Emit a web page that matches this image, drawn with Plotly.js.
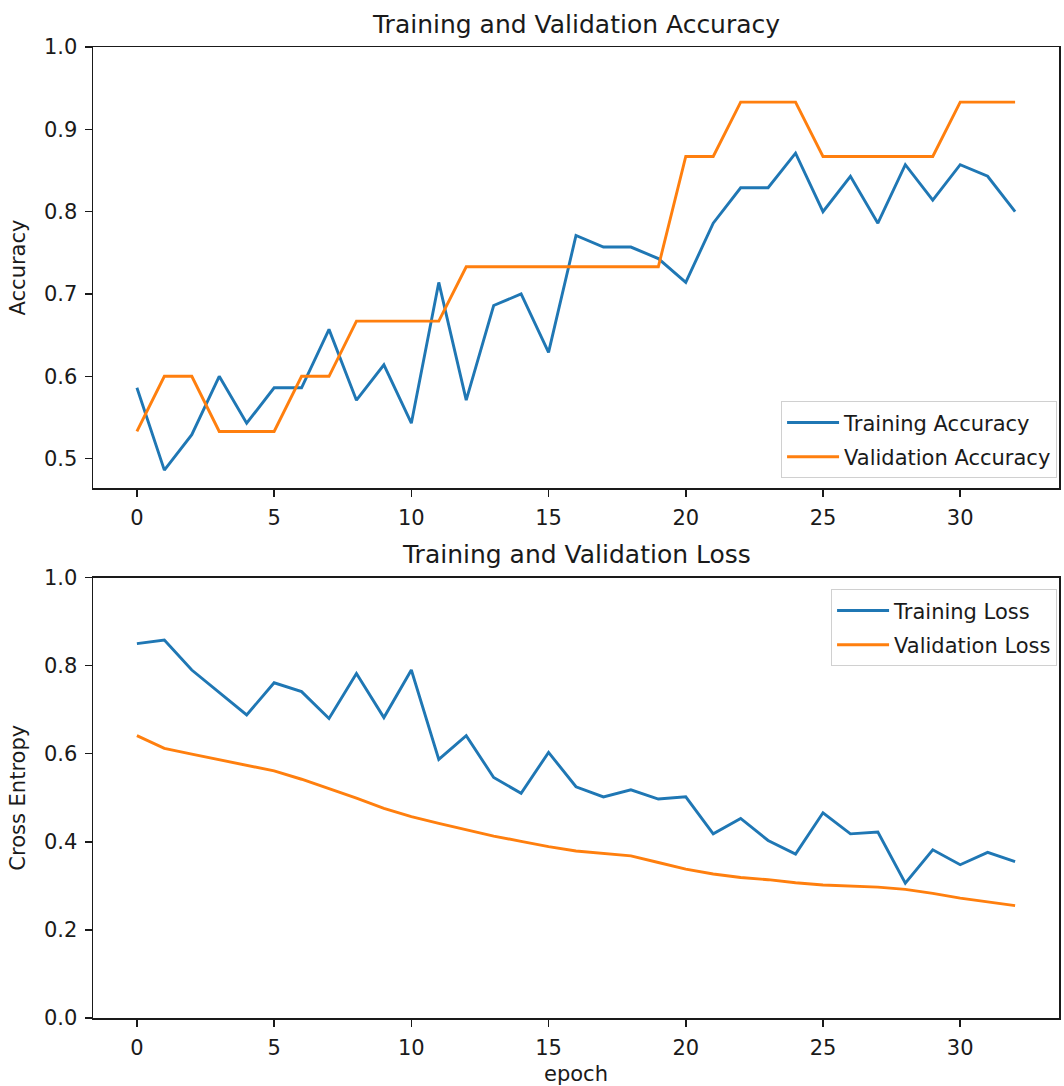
<!DOCTYPE html>
<html>
<head>
<meta charset="utf-8">
<script src="https://cdn.plot.ly/plotly-3.0.1.min.js"></script>
<style>html,body{margin:0;padding:0;background:#fff;}#chart{width:1064px;height:1086px;}</style>
</head>
<body>
<div id="chart"></div>
<script>
const epochs = Array.from({length: 33}, (_, i) => i);
const trainAcc = [0.586, 0.486, 0.529, 0.600, 0.543, 0.586, 0.586, 0.657, 0.571, 0.614, 0.543, 0.714,
  0.571, 0.686, 0.700, 0.629, 0.771, 0.757, 0.757, 0.743, 0.714, 0.786, 0.829, 0.829,
  0.871, 0.800, 0.843, 0.786, 0.857, 0.814, 0.857, 0.843, 0.800];
const valAcc = [0.533, 0.600, 0.600, 0.533, 0.533, 0.533, 0.600, 0.600, 0.667, 0.667, 0.667, 0.667,
  0.733, 0.733, 0.733, 0.733, 0.733, 0.733, 0.733, 0.733, 0.867, 0.867, 0.933, 0.933,
  0.933, 0.867, 0.867, 0.867, 0.867, 0.867, 0.933, 0.933, 0.933];
const trainLoss = [0.850, 0.858, 0.790, 0.738, 0.688, 0.761, 0.741, 0.680, 0.782, 0.682, 0.790, 0.587,
  0.641, 0.546, 0.510, 0.603, 0.525, 0.502, 0.518, 0.497, 0.502, 0.418, 0.453, 0.403,
  0.372, 0.466, 0.418, 0.422, 0.306, 0.382, 0.348, 0.376, 0.355];
const valLoss = [0.641, 0.612, 0.599, 0.586, 0.574, 0.561, 0.542, 0.521, 0.499, 0.476, 0.457, 0.442,
  0.427, 0.413, 0.401, 0.389, 0.379, 0.374, 0.368, 0.353, 0.338, 0.327, 0.319, 0.314,
  0.307, 0.302, 0.300, 0.297, 0.292, 0.283, 0.272, 0.264, 0.255];
const xTicks = [0, 5, 10, 15, 20, 25, 30];
const accTicks = [0.5, 0.6, 0.7, 0.8, 0.9, 1.0];
const lossTicks = [0.0, 0.2, 0.4, 0.6, 0.8, 1.0];

const BLUE = '#1f77b4', ORANGE = '#ff7f0e';
const FONT = 'DejaVu Sans, sans-serif';
const TXT = '#1a1a1a';
const LW = 2.9;
const FS = 21;

const traces = [
  {x: epochs, y: trainAcc, name: 'Training Accuracy', type: 'scatter', mode: 'lines', legendgroup: 'a',
   line: {color: BLUE, width: LW}, xaxis: 'x', yaxis: 'y', legend: 'legend'},
  {x: epochs, y: valAcc, name: 'Validation Accuracy', type: 'scatter', mode: 'lines', legendgroup: 'b',
   line: {color: ORANGE, width: LW}, xaxis: 'x', yaxis: 'y', legend: 'legend'},
  {x: epochs, y: trainLoss, name: 'Training Loss', type: 'scatter', mode: 'lines', legendgroup: 'c',
   line: {color: BLUE, width: LW}, xaxis: 'x2', yaxis: 'y2', legend: 'legend2'},
  {x: epochs, y: valLoss, name: 'Validation Loss', type: 'scatter', mode: 'lines', legendgroup: 'd',
   line: {color: ORANGE, width: LW}, xaxis: 'x2', yaxis: 'y2', legend: 'legend2'}
];

const axCommon = {
  showgrid: false, zeroline: false, showline: true, mirror: true,
  linecolor: '#1a1a1a', linewidth: 1.5, ticks: 'outside', ticklen: 7, tickwidth: 1.5,
  tickcolor: '#1a1a1a', tickfont: {family: FONT, size: FS, color: TXT}, automargin: false,
  ticklabelstandoff: 3
};

const H_BOTTOM = 1018, H_TOP = 47;
const areaH = H_BOTTOM - H_TOP;
const py = px => (H_BOTTOM - px) / areaH;

const legendCommon = {bgcolor: 'rgba(255,255,255,0.8)', bordercolor: '#d0d0d0', borderwidth: 1,
  font: {family: FONT, size: FS, color: TXT}, itemwidth: 52, tracegroupgap: 4, traceorder: 'grouped'};

const layout = {
  width: 1064, height: 1086,
  paper_bgcolor: '#fff', plot_bgcolor: '#fff',
  margin: {l: 93, r: 5, t: H_TOP, b: 1086 - H_BOTTOM},
  font: {family: FONT, color: TXT},
  xaxis: Object.assign({}, axCommon, {range: [-1.6, 33.6], tickvals: xTicks, ticktext: xTicks.map(String), anchor: 'y'}),
  yaxis: Object.assign({}, axCommon, {domain: [py(488), 1], range: [0.4643, 1.0], tickvals: accTicks,
    ticktext: accTicks.map(v => v.toFixed(1)), anchor: 'x',
    title: {text: 'Accuracy', font: {family: FONT, size: FS, color: TXT}, standoff: 12}}),
  xaxis2: Object.assign({}, axCommon, {range: [-1.6, 33.6], tickvals: xTicks, ticktext: xTicks.map(String), anchor: 'y2',
    title: {text: 'epoch', font: {family: FONT, size: FS, color: TXT}, standoff: 8}}),
  yaxis2: Object.assign({}, axCommon, {domain: [0, py(577.5)], range: [0, 1.0], tickvals: lossTicks,
    ticktext: lossTicks.map(v => v.toFixed(1)), anchor: 'x2',
    title: {text: 'Cross Entropy', font: {family: FONT, size: FS, color: TXT}, standoff: 12}}),
  legend: Object.assign({}, legendCommon, {x: 0.998, xanchor: 'right', y: py(478.3), yanchor: 'bottom'}),
  legend2: Object.assign({}, legendCommon, {x: 0.998, xanchor: 'right', y: py(589.3), yanchor: 'top'}),
  annotations: [
    {text: 'Training and Validation Accuracy', xref: 'paper', yref: 'paper', x: 0.5, y: 1.0, yshift: 6,
     xanchor: 'center', yanchor: 'bottom', showarrow: false, font: {family: FONT, size: 25, color: TXT}},
    {text: 'Training and Validation Loss', xref: 'paper', yref: 'paper', x: 0.5, y: py(577.5), yshift: 6,
     xanchor: 'center', yanchor: 'bottom', showarrow: false, font: {family: FONT, size: 25, color: TXT}}
  ],
  showlegend: true
};

Plotly.newPlot('chart', traces, layout, {displayModeBar: false, staticPlot: true});
</script>
</body>
</html>
